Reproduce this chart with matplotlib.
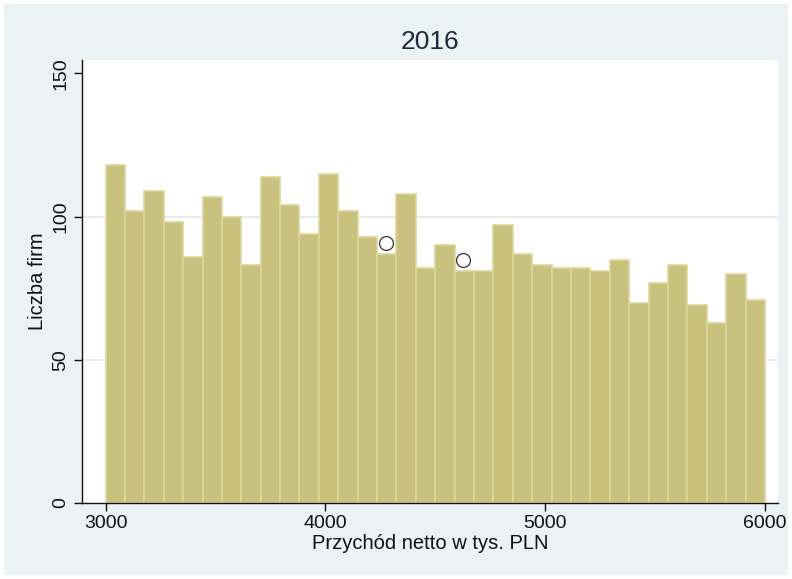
import matplotlib.pyplot as plt
import numpy as np
from matplotlib.patches import Rectangle

plt.rcParams['font.family'] = ['Liberation Sans Narrow', 'Liberation Sans', 'DejaVu Sans']

# histogram: 34 bins between 3000 and 6000
bin_start = 3000
bin_end = 6000
counts = [118, 102, 109, 98, 86, 107, 100, 83, 114, 104, 94, 115, 102, 93, 87, 108, 82,
          90, 81, 81, 97, 87, 83, 82, 82, 81, 85, 70, 77, 83, 69, 63, 80, 71]
# extra points marked with circles
point_x = [4277, 4628]
point_y = [90.7, 84.9]

x_ticks = [3000, 4000, 5000, 6000]
y_ticks = [0, 50, 100, 150]

outer_bg = '#EAF2F3'
bar_fill = '#C9C27F'
bar_edge = '#DED79C'

fig = plt.figure(figsize=(7.92, 5.79), dpi=100, facecolor='white')
fig.patches.append(Rectangle((4 / 792, 4 / 579), 784 / 792, 571 / 579,
                             transform=fig.transFigure, facecolor=outer_bg,
                             edgecolor='none', zorder=-10))

ax = fig.add_axes([82 / 792, 76 / 579, 696 / 792, 443 / 579])
ax.set_facecolor('white')

edges = np.linspace(bin_start, bin_end, len(counts) + 1)
ax.bar(edges[:-1], counts, width=np.diff(edges), align='edge',
       color=bar_fill, edgecolor=bar_edge, linewidth=1.2, zorder=2)
ax.plot(point_x, point_y, 'o', ms=10, mfc='white', mec='#333333', mew=0.9, zorder=3)

for g in [50, 100]:
    ax.axhline(g, color='#E3E8EA', lw=1.2, zorder=1)

ax.set_xlim(2893, 6059)
ax.set_ylim(0, 154.7)
ax.set_xticks(x_ticks)
ax.set_yticks(y_ticks)
ax.set_yticklabels([str(t) for t in y_ticks], rotation=90, va='center')

for s in ['top', 'right']:
    ax.spines[s].set_visible(False)
for s in ['left', 'bottom']:
    ax.spines[s].set_color('#111111')
    ax.spines[s].set_linewidth(1.0)

ax.tick_params(axis='both', direction='out', length=6, width=1, color='#111111',
               labelsize=14, labelcolor='#111111', pad=3)

ax.set_xlabel('Przychód netto w tys. PLN', fontsize=14.5, color='#111111', labelpad=1)
ax.set_ylabel('Liczba firm', fontsize=14.5, color='#111111', labelpad=4)
ax.set_title('2016', fontsize=19, color='#1E2A3C', pad=8)

fig.savefig('out.png', dpi=100, facecolor='white')
